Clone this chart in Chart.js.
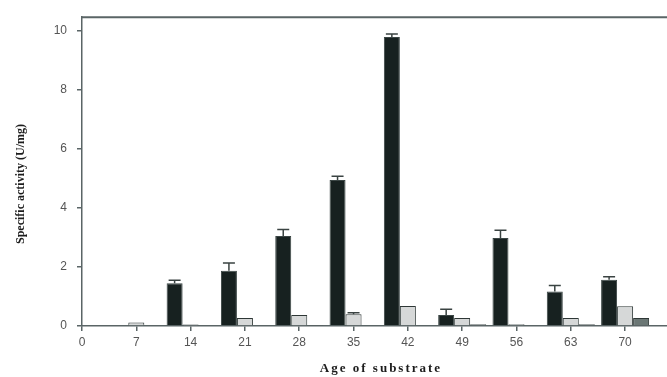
<!DOCTYPE html>
<html>
<head>
<meta charset="utf-8">
<title>Specific activity by age of substrate</title>
<script src="https://cdn.jsdelivr.net/npm/chart.js"></script>
<style>
  html, body { margin: 0; padding: 0; background: #fff; }
  #wrap { width: 667px; height: 377px; }
</style>
</head>
<body>
<div id="wrap"><canvas id="chart" width="667" height="377"></canvas></div>
<script>
// age of substrate (days)
const days = [7, 14, 21, 28, 35, 42, 49, 56, 63, 70];

// specific activity (U/mg) for the three series
const seriesDark  = [0, 1.45, 1.87, 3.05, 4.95, 9.8, 0.37, 2.98, 1.17, 1.57];
const seriesLight = [0.12, 0.05, 0.27, 0.37, 0.4, 0.68, 0.27, 0.06, 0.27, 0.67];
const seriesGrey  = [0, 0, 0, 0.02, 0, 0, 0.06, 0, 0.06, 0.27];

// error bars (upper half only, as in the figure)
const errDark  = [0, 0.1, 0.27, 0.22, 0.13, 0.1, 0.2, 0.27, 0.2, 0.1];
const errLight = [0, 0, 0, 0, 0.05, 0, 0, 0, 0, 0];

const xTicks = [0, 7, 14, 21, 28, 35, 42, 49, 56, 63, 70];
const yTicks = [0, 2, 4, 6, 8, 10];

const toPoints = vals => days.map((d, i) => ({ x: d, y: vals[i] }));

const errorBars = {
  id: 'errorBars',
  afterDatasetsDraw(chart) {
    const ctx = chart.ctx;
    const y = chart.scales.y;
    chart.data.datasets.forEach((ds, di) => {
      if (!ds.errors) return;
      const meta = chart.getDatasetMeta(di);
      meta.data.forEach((bar, i) => {
        const e = ds.errors[i];
        if (!e) return;
        const v = ds.data[i].y;
        const top = y.getPixelForValue(v + e);
        ctx.save();
        ctx.strokeStyle = '#3a4342';
        ctx.lineWidth = 1.5;
        ctx.beginPath();
        ctx.moveTo(bar.x, bar.y);
        ctx.lineTo(bar.x, top);
        ctx.moveTo(bar.x - 6, top);
        ctx.lineTo(bar.x + 6, top);
        ctx.stroke();
        ctx.restore();
      });
    });
  }
};

const frame = {
  id: 'frame',
  afterDraw(chart) {
    const ctx = chart.ctx;
    const a = chart.chartArea;
    ctx.save();
    // top border of plot
    ctx.strokeStyle = '#5a6566';
    ctx.lineWidth = 2;
    ctx.beginPath();
    ctx.moveTo(a.left, a.top);
    ctx.lineTo(chart.width, a.top);
    ctx.stroke();

    // axis titles
    ctx.fillStyle = '#1c1c1c';
    ctx.font = 'bold 13px "Liberation Serif"';
    ctx.textAlign = 'center';
    ctx.textBaseline = 'middle';
    ctx.letterSpacing = '2px';
    ctx.fillText('Age of substrate', 381, 369);
    ctx.letterSpacing = '0px';
    ctx.font = 'bold 12px "Liberation Serif"';
    ctx.translate(21, 184);
    ctx.rotate(-Math.PI / 2);
    ctx.fillText('Specific activity (U/mg)', 0, 0);
    ctx.restore();
  }
};

new Chart(document.getElementById('chart'), {
  type: 'bar',
  data: {
    datasets: [
      {
        label: 'A',
        data: toPoints(seriesDark),
        errors: errDark,
        backgroundColor: '#172120',
        borderColor: '#3a4544',
        borderWidth: 1
      },
      {
        label: 'B',
        data: toPoints(seriesLight),
        errors: errLight,
        backgroundColor: '#d6d8d8',
        borderColor: '#2e3736',
        borderWidth: 1
      },
      {
        label: 'C',
        data: toPoints(seriesGrey),
        backgroundColor: '#6b7775',
        borderColor: '#2e3736',
        borderWidth: 1
      }
    ]
  },
  options: {
    responsive: false,
    animation: false,
    layout: { padding: { top: 13, right: 0, left: 0, bottom: 0 } },
    plugins: { legend: { display: false }, tooltip: { enabled: false } },
    datasets: { bar: { categoryPercentage: 0.884, barPercentage: 1, borderSkipped: 'start' } },
    scales: {
      x: {
        type: 'linear',
        offset: false,
        min: 0,
        max: 75.4,
        afterBuildTicks: s => { s.ticks = xTicks.map(v => ({ value: v })); },
        afterFit: s => { s.height = 51; },
        grid: { display: true, offset: false, drawOnChartArea: false, drawTicks: true, tickLength: 5, color: '#5a6566', lineWidth: 1.5 },
        border: { display: true, color: '#5a6566', width: 1.5 },
        ticks: { color: '#555', font: { family: 'Liberation Sans', size: 12 }, padding: 4, maxRotation: 0 }
      },
      y: {
        min: 0,
        max: 10.47,
        afterBuildTicks: s => { s.ticks = yTicks.map(v => ({ value: v })); },
        afterFit: s => { s.width = 82; },
        grid: { display: true, drawOnChartArea: false, drawTicks: true, tickLength: 5, color: '#5a6566', lineWidth: 1.5 },
        border: { display: true, color: '#5a6566', width: 1.5 },
        ticks: { color: '#555', font: { family: 'Liberation Sans', size: 12 }, padding: 10 }
      }
    }
  },
  plugins: [errorBars, frame]
});
</script>
</body>
</html>
